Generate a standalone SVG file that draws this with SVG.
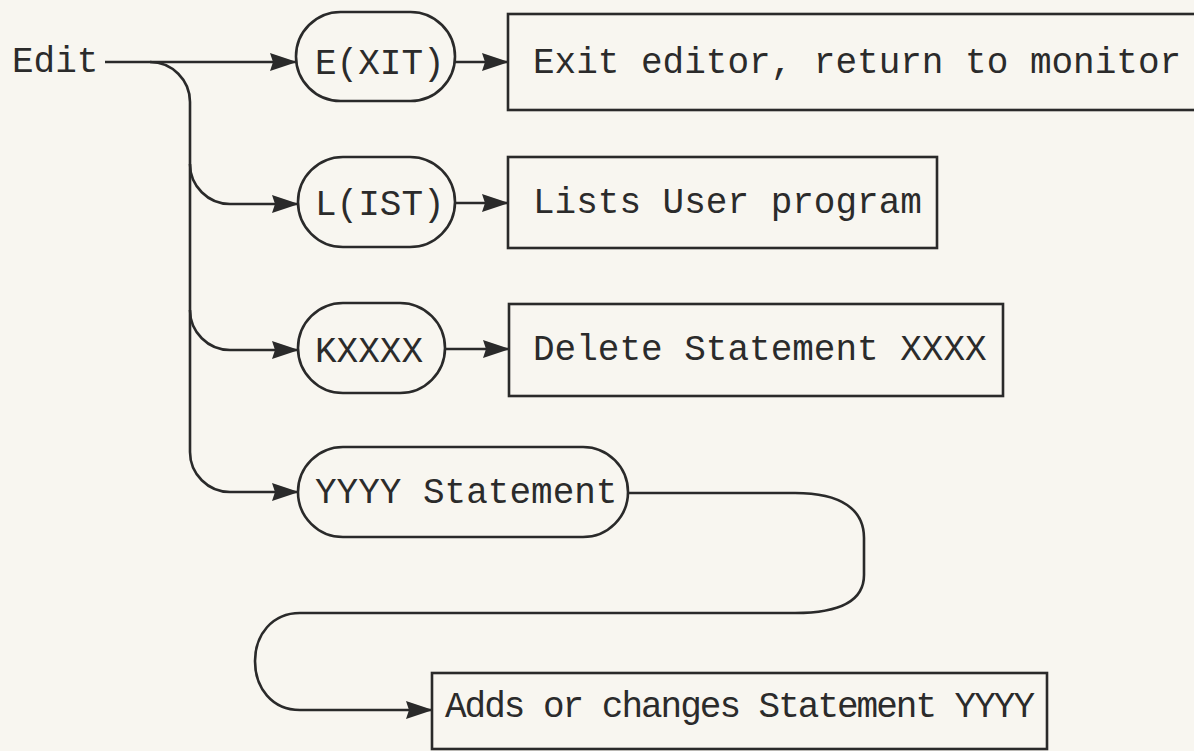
<svg xmlns="http://www.w3.org/2000/svg" width="1194" height="751" viewBox="0 0 1194 751">
  <defs>
    <marker id="arrow" markerUnits="userSpaceOnUse" markerWidth="27" markerHeight="18" refX="26" refY="9" orient="auto">
      <path d="M0,0 L27,9 L0,18 L3,9 Z" fill="#2a2a2a"/>
    </marker>
    <style>
      .shape { fill: none; stroke: #2a2a2a; stroke-width: 2.6; }
      .conn { fill: none; stroke: #2a2a2a; stroke-width: 2.6; }
      .lbl { font-family: "Liberation Mono", "Courier New", monospace; font-size: 36px; fill: #2b2b2b; }
    </style>
  </defs>
  <rect x="0" y="0" width="1194" height="751" fill="#f8f6f0"/>

  <g id="edit">
    <text class="lbl" x="12" y="72">Edit</text>
  </g>

  <g id="exit-cmd">
    <rect class="shape" x="296" y="12" width="159" height="89" rx="44.5" ry="44.5"/>
    <text class="lbl" x="315" y="74">E(XIT)</text>
  </g>
  <g id="exit-desc">
    <rect class="shape" x="508" y="14" width="700" height="96"/>
    <text class="lbl" x="533" y="73">Exit editor, return to monitor</text>
  </g>

  <g id="list-cmd">
    <rect class="shape" x="298" y="157" width="157" height="90" rx="45" ry="45"/>
    <text class="lbl" x="315" y="215">L(IST)</text>
  </g>
  <g id="list-desc">
    <rect class="shape" x="508" y="157" width="429" height="91"/>
    <text class="lbl" x="533" y="213">Lists User program</text>
  </g>

  <g id="kill-cmd">
    <rect class="shape" x="298" y="303" width="147" height="90" rx="45" ry="45"/>
    <text class="lbl" x="315" y="362">KXXXX</text>
  </g>
  <g id="kill-desc">
    <rect class="shape" x="509" y="304" width="494" height="92"/>
    <text class="lbl" x="533" y="360">Delete Statement XXXX</text>
  </g>

  <g id="stmt-cmd">
    <rect class="shape" x="298" y="447" width="330" height="90" rx="45" ry="45"/>
    <text class="lbl" x="315" y="503">YYYY Statement</text>
  </g>
  <g id="stmt-desc">
    <rect class="shape" x="432" y="673" width="615" height="76"/>
    <text class="lbl" x="445" y="717" textLength="590">Adds or changes Statement YYYY</text>
  </g>

  <g id="connectors">
    <path class="conn" d="M105,62 H296" marker-end="url(#arrow)"/>
    <path class="conn" d="M150,62 C172,62 190,80 190,102 V452 C190,474 208,492 230,492 H298" marker-end="url(#arrow)"/>
    <path class="conn" d="M190,164 C190,186 208,204 230,204 H298" marker-end="url(#arrow)"/>
    <path class="conn" d="M190,310 C190,332 208,350 230,350 H298" marker-end="url(#arrow)"/>
    <path class="conn" d="M455,62 H508" marker-end="url(#arrow)"/>
    <path class="conn" d="M455,203 H508" marker-end="url(#arrow)"/>
    <path class="conn" d="M445,349 H509" marker-end="url(#arrow)"/>
    <path class="conn" d="M628,493 H795 C842,493 864,510 864,538 V575 C864,600 842,613 795,613 H300 C272,613 255,635 255,661 C255,688 272,710 300,710 H432" marker-end="url(#arrow)"/>
  </g>
</svg>
